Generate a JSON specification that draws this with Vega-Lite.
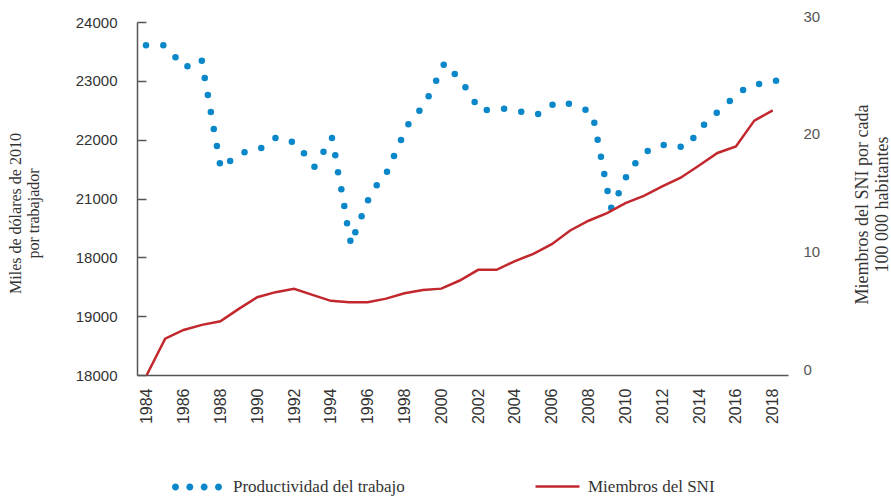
{
  "$schema": "https://vega.github.io/schema/vega-lite/v6.json",
  "width": 651,
  "height": 353,
  "autosize": {"type": "none"},
  "padding": {"left": 137, "top": 22, "right": 103, "bottom": 121},
  "background": "white",
  "config": {
    "view": {"stroke": null},
    "axis": {
      "grid": false,
      "labelFont": "Liberation Sans",
      "labelFontSize": 15,
      "labelColor": "#333333",
      "titleFont": "Liberation Serif",
      "titleFontSize": 16,
      "titleFontWeight": "normal",
      "titleColor": "#333333",
      "domainColor": "#555555",
      "domainWidth": 1.5
    },
    "legend": {
      "labelFont": "Liberation Serif",
      "labelFontSize": 17,
      "labelColor": "#333333",
      "labelLimit": 400,
      "padding": 0
    }
  },
  "datasets": {
    "productividad": [
      {"anio": 1983.96, "valor": 23604},
      {"anio": 1984.9, "valor": 23604},
      {"anio": 1985.56, "valor": 23400},
      {"anio": 1986.21, "valor": 23247},
      {"anio": 1986.99, "valor": 23342},
      {"anio": 1987.15, "valor": 23048},
      {"anio": 1987.32, "valor": 22759},
      {"anio": 1987.48, "valor": 22470},
      {"anio": 1987.64, "valor": 22181},
      {"anio": 1987.81, "valor": 21892},
      {"anio": 1987.97, "valor": 21598},
      {"anio": 1988.53, "valor": 21637},
      {"anio": 1989.31, "valor": 21785},
      {"anio": 1990.22, "valor": 21858},
      {"anio": 1990.99, "valor": 22028},
      {"anio": 1991.88, "valor": 21965},
      {"anio": 1992.54, "valor": 21768},
      {"anio": 1993.11, "valor": 21540},
      {"anio": 1993.6, "valor": 21795},
      {"anio": 1994.06, "valor": 22028},
      {"anio": 1994.24, "valor": 21734},
      {"anio": 1994.39, "valor": 21445},
      {"anio": 1994.57, "valor": 21156},
      {"anio": 1994.73, "valor": 20873},
      {"anio": 1994.88, "valor": 20578},
      {"anio": 1995.06, "valor": 20283},
      {"anio": 1995.33, "valor": 20426},
      {"anio": 1995.67, "valor": 20697},
      {"anio": 1996.02, "valor": 20969},
      {"anio": 1996.49, "valor": 21224},
      {"anio": 1997.05, "valor": 21456},
      {"anio": 1997.43, "valor": 21722},
      {"anio": 1997.81, "valor": 21994},
      {"anio": 1998.21, "valor": 22261},
      {"anio": 1998.81, "valor": 22492},
      {"anio": 1999.31, "valor": 22737},
      {"anio": 1999.72, "valor": 23002},
      {"anio": 2000.13, "valor": 23274},
      {"anio": 2000.73, "valor": 23116},
      {"anio": 2001.31, "valor": 22890},
      {"anio": 2001.81, "valor": 22640},
      {"anio": 2002.47, "valor": 22504},
      {"anio": 2003.41, "valor": 22526},
      {"anio": 2004.34, "valor": 22475},
      {"anio": 2005.26, "valor": 22436},
      {"anio": 2006.04, "valor": 22594},
      {"anio": 2006.93, "valor": 22611},
      {"anio": 2007.83, "valor": 22509},
      {"anio": 2008.31, "valor": 22288},
      {"anio": 2008.49, "valor": 21999},
      {"anio": 2008.67, "valor": 21710},
      {"anio": 2008.85, "valor": 21416},
      {"anio": 2009.03, "valor": 21128},
      {"anio": 2009.23, "valor": 20844},
      {"anio": 2009.63, "valor": 21088},
      {"anio": 2010.03, "valor": 21360},
      {"anio": 2010.54, "valor": 21598},
      {"anio": 2011.21, "valor": 21807},
      {"anio": 2012.08, "valor": 21909},
      {"anio": 2013.0, "valor": 21880},
      {"anio": 2013.69, "valor": 22028},
      {"anio": 2014.27, "valor": 22254},
      {"anio": 2014.96, "valor": 22458},
      {"anio": 2015.67, "valor": 22657},
      {"anio": 2016.39, "valor": 22844},
      {"anio": 2017.26, "valor": 22946},
      {"anio": 2018.18, "valor": 23002}
    ],
    "sni": [
      {"anio": 1984, "sni": 0.0},
      {"anio": 1985, "sni": 3.09},
      {"anio": 1986, "sni": 3.83},
      {"anio": 1987, "sni": 4.26},
      {"anio": 1988, "sni": 4.57},
      {"anio": 1989, "sni": 5.62},
      {"anio": 1990, "sni": 6.61},
      {"anio": 1991, "sni": 7.04},
      {"anio": 1992, "sni": 7.32},
      {"anio": 1993, "sni": 6.81},
      {"anio": 1994, "sni": 6.3},
      {"anio": 1995, "sni": 6.19},
      {"anio": 1996, "sni": 6.19},
      {"anio": 1997, "sni": 6.49},
      {"anio": 1998, "sni": 6.95},
      {"anio": 1999, "sni": 7.23},
      {"anio": 2000, "sni": 7.34},
      {"anio": 2001, "sni": 8.03},
      {"anio": 2002, "sni": 8.94},
      {"anio": 2003, "sni": 8.94},
      {"anio": 2004, "sni": 9.68},
      {"anio": 2005, "sni": 10.3},
      {"anio": 2006, "sni": 11.12},
      {"anio": 2007, "sni": 12.28},
      {"anio": 2008, "sni": 13.11},
      {"anio": 2009, "sni": 13.76},
      {"anio": 2010, "sni": 14.61},
      {"anio": 2011, "sni": 15.23},
      {"anio": 2012, "sni": 16.03},
      {"anio": 2013, "sni": 16.77},
      {"anio": 2014, "sni": 17.81},
      {"anio": 2015, "sni": 18.87},
      {"anio": 2016, "sni": 19.43},
      {"anio": 2017, "sni": 21.62},
      {"anio": 2018, "sni": 22.49}
    ]
  },
  "encoding": {
    "x": {
      "field": "anio",
      "type": "quantitative",
      "scale": {"domain": [1983.47, 2018.83], "nice": false, "zero": false},
      "axis": {
        "values": [1984, 1986, 1988, 1990, 1992, 1994, 1996, 1998, 2000, 2002, 2004, 2006, 2008, 2010, 2012, 2014, 2016, 2018],
        "format": "d",
        "labelAngle": -90,
        "labelOverlap": false,
        "labelSeparation": 0,
        "labelFontSize": 16,
        "ticks": false,
        "labelPadding": 13,
        "title": null
      }
    }
  },
  "layer": [
    {
      "data": {"name": "productividad"},
      "mark": {"type": "point", "filled": true, "size": 42, "opacity": 1},
      "encoding": {
        "y": {
          "field": "valor",
          "type": "quantitative",
          "scale": {"domain": [18000, 24000], "nice": false, "zero": false},
          "axis": {
            "orient": "left",
            "values": [18000, 19000, 20000, 21000, 22000, 23000, 24000],
            "format": "d",
            "labelExpr": "datum.value == 20000 ? '18000' : datum.label",
            "labelOverlap": false,
            "ticks": true,
            "tickSize": -9,
            "tickColor": "#555555",
            "tickWidth": 1.5,
            "labelPadding": 29,
            "title": ["Miles de dólares de 2010", "por trabajador"],
            "titleX": -122,
            "titleY": 191,
            "titleAngle": 270,
            "titleBaseline": "middle",
            "titleAlign": "center"
          }
        },
        "color": {
          "datum": "Productividad del trabajo",
          "scale": {"range": ["#0a87c9"]},
          "legend": {
            "orient": "none",
            "legendX": 35,
            "legendY": 440,
            "title": null,
            "symbolType": "M-1,0a0.14,0.14 0 1,0 0.28,0a0.14,0.14 0 1,0 -0.28,0Z M-0.427,0a0.14,0.14 0 1,0 0.28,0a0.14,0.14 0 1,0 -0.28,0Z M0.147,0a0.14,0.14 0 1,0 0.28,0a0.14,0.14 0 1,0 -0.28,0Z M0.72,0a0.14,0.14 0 1,0 0.28,0a0.14,0.14 0 1,0 -0.28,0Z",
            "symbolSize": 2500,
            "symbolStrokeWidth": 0,
            "labelOffset": 11
          }
        }
      }
    },
    {
      "data": {"name": "sni"},
      "mark": {"type": "line", "strokeWidth": 2.5},
      "encoding": {
        "y": {
          "field": "sni",
          "type": "quantitative",
          "scale": {"domain": [0, 30], "nice": false, "zero": false},
          "axis": {
            "orient": "right",
            "values": [0, 10, 20, 30],
            "format": "d",
            "domain": false,
            "ticks": false,
            "labelPadding": 15,
            "labelOffset": -6,
            "labelColor": "#555555",
            "title": ["Miembros del SNI por cada", "100 000 habitantes"],
            "titleFontSize": 18,
            "titleX": 74,
            "titleY": 182,
            "titleAngle": 270,
            "titleBaseline": "middle",
            "titleAlign": "center"
          }
        },
        "color": {
          "datum": "Miembros del SNI",
          "scale": {"range": ["#c1272d"]},
          "legend": {
            "orient": "none",
            "legendX": 397,
            "legendY": 441,
            "title": null,
            "symbolType": "stroke",
            "symbolSize": 1936,
            "symbolStrokeWidth": 2.5,
            "labelOffset": 7
          }
        }
      }
    }
  ],
  "resolve": {"scale": {"y": "independent", "color": "independent"}}
}
